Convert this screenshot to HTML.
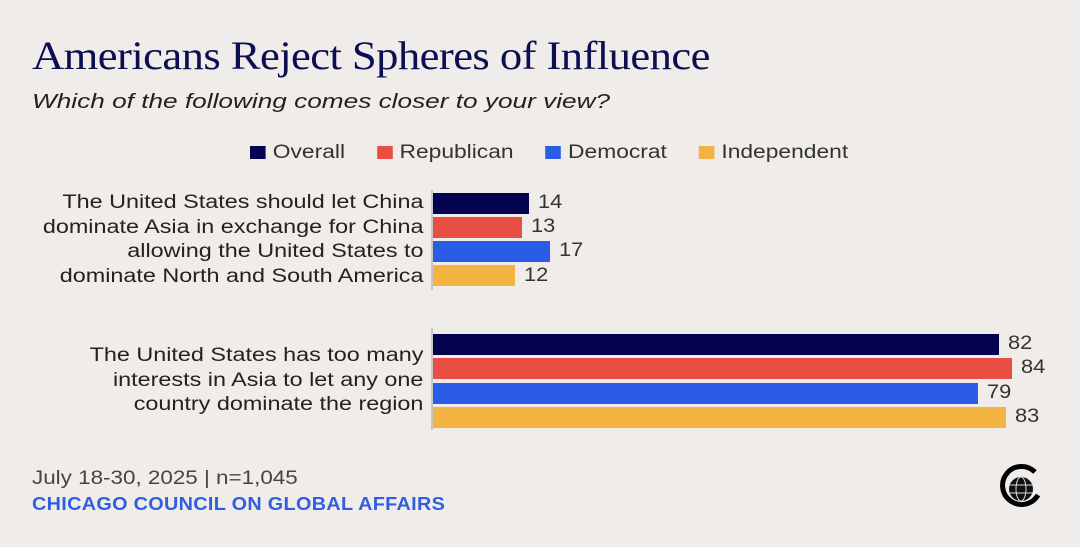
<!DOCTYPE html>
<html><head><style>
body{margin:0;width:1080px;height:547px;background:#efece9;position:relative;overflow:hidden;font-family:"Liberation Sans",sans-serif}
.t{position:absolute;white-space:nowrap;transform-origin:0 0}
.bar{position:absolute;left:433px;height:21px}
.v{position:absolute;font-size:19px;color:#333;transform:scaleX(1.15);transform-origin:0 0}
.lab{position:absolute;right:657px;text-align:right;font-size:19px;line-height:24.5px;color:#222;transform:scaleX(1.23);transform-origin:100% 0;white-space:nowrap}
.sw{display:inline-block;width:13px;height:13px;margin-right:6px;vertical-align:-1px}
</style></head><body>
<div class="t" style="left:32px;top:32px;font-family:'Liberation Serif',serif;font-size:40px;color:#0c0e52;letter-spacing:-0.5px;transform:scaleX(1.115)">Americans Reject Spheres of Influence</div>
<div class="t" style="left:32px;top:91px;font-size:20px;font-style:italic;color:#222;transform:scaleX(1.31)">Which of the following comes closer to your view?</div>
<div class="t" style="left:250px;top:142px;font-size:19px;color:#333;transform:scaleX(1.2)">
<span class="sw" style="background:#03034f"></span>Overall&nbsp;&nbsp;&nbsp;&nbsp;&nbsp;<span class="sw" style="background:#e94e45"></span>Republican&nbsp;&nbsp;&nbsp;&nbsp;&nbsp;<span class="sw" style="background:#2a5ce6"></span>Democrat&nbsp;&nbsp;&nbsp;&nbsp;&nbsp;<span class="sw" style="background:#f2b340"></span>Independent</div>
<div class="lab" style="top:191px">The United States should let China<br>dominate Asia in exchange for China<br>allowing the United States to<br>dominate North and South America</div>
<div class="lab" style="top:344px">The United States has too many<br>interests in Asia to let any one<br>country dominate the region</div>
<div style="position:absolute;left:431px;top:190px;width:2px;height:100px;background:#c8c6c4"></div>
<div style="position:absolute;left:431px;top:328px;width:2px;height:102px;background:#c8c6c4"></div>
<div class="bar" style="top:193px;width:96px;background:#03034f"></div><div class="v" style="left:538px;top:192px">14</div>
<div class="bar" style="top:217px;width:89px;background:#e94e45"></div><div class="v" style="left:531px;top:216px">13</div>
<div class="bar" style="top:241px;width:117px;background:#2a5ce6"></div><div class="v" style="left:559px;top:240px">17</div>
<div class="bar" style="top:265px;width:82px;background:#f2b340"></div><div class="v" style="left:524px;top:265px">12</div>
<div class="bar" style="top:334px;width:566px;background:#03034f"></div><div class="v" style="left:1008px;top:333px">82</div>
<div class="bar" style="top:358px;width:579px;background:#e94e45"></div><div class="v" style="left:1021px;top:357px">84</div>
<div class="bar" style="top:383px;width:545px;background:#2a5ce6"></div><div class="v" style="left:987px;top:382px">79</div>
<div class="bar" style="top:407px;width:573px;background:#f2b340"></div><div class="v" style="left:1015px;top:406px">83</div>
<div class="t" style="left:32px;top:468px;font-size:19px;color:#444;transform:scaleX(1.18)">July 18-30, 2025 | n=1,045</div>
<div class="t" style="left:32px;top:494px;font-size:18px;font-weight:bold;color:#2f5fe0;letter-spacing:0.3px;transform:scaleX(1.1)">CHICAGO COUNCIL ON GLOBAL AFFAIRS</div>
<svg style="position:absolute;left:995px;top:460px" width="60" height="60" viewBox="0 0 60 60">
<path d="M40 12 A19 19 0 1 0 43 35" fill="none" stroke="#000" stroke-width="5"/>
<circle cx="26" cy="29" r="12" fill="#111"/>
<g stroke="#ddd" stroke-width="1" fill="none"><ellipse cx="26" cy="29" rx="5" ry="12"/><line x1="14" y1="25" x2="38" y2="25"/><line x1="14" y1="33" x2="38" y2="33"/></g>
</svg>
</body></html>
